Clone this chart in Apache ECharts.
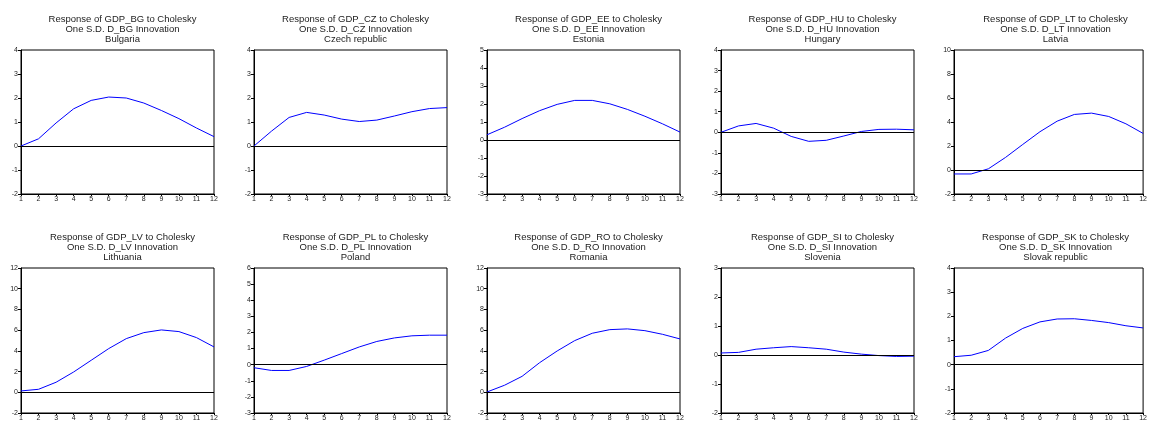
<!DOCTYPE html>
<html><head><meta charset="utf-8">
<script src="https://cdn.jsdelivr.net/npm/echarts@6/dist/echarts.min.js"></script>
<style>html,body{margin:0;padding:0;background:#fff}#c{width:1150px;height:425px}</style>
</head><body><div id="c"></div>
<script>
const periods = ['1','2','3','4','5','6','7','8','9','10','11','12'];
const codes = ['BG','CZ','EE','HU','LT','LV','PL','RO','SI','SK'];
const countries = ['Bulgaria','Czech republic','Estonia','Hungary','Latvia','Lithuania','Poland','Romania','Slovenia','Slovak republic'];
const bulgaria = [0.0,0.30,0.96,1.55,1.90,2.04,2.00,1.79,1.48,1.14,0.75,0.39];
const czech = [0.0,0.62,1.19,1.40,1.29,1.12,1.02,1.08,1.25,1.43,1.56,1.60];
const estonia = [0.29,0.71,1.19,1.63,1.98,2.20,2.20,2.01,1.70,1.32,0.90,0.44];
const hungary = [0.0,0.31,0.43,0.20,-0.20,-0.44,-0.39,-0.18,0.04,0.14,0.15,0.12];
const latvia = [-0.33,-0.33,0.10,1.05,2.13,3.19,4.07,4.63,4.74,4.46,3.85,3.05];
const lithuania = [0.13,0.29,0.97,1.96,3.09,4.22,5.18,5.76,6.02,5.86,5.28,4.38];
const poland = [-0.19,-0.36,-0.36,-0.11,0.28,0.69,1.10,1.44,1.66,1.79,1.83,1.83];
const romania = [0.03,0.68,1.54,2.86,3.99,4.99,5.70,6.05,6.12,5.95,5.60,5.15];
const slovenia = [0.07,0.09,0.20,0.25,0.29,0.25,0.20,0.10,0.03,-0.02,-0.05,-0.04];
const slovak = [0.33,0.39,0.59,1.10,1.50,1.77,1.89,1.90,1.83,1.74,1.61,1.52];
const seriesData = [bulgaria,czech,estonia,hungary,latvia,lithuania,poland,romania,slovenia,slovak];
const yMin = [-2,-2,-3,-3,-2,-2,-3,-2,-2,-2];
const yMax = [4,4,5,4,10,12,6,12,3,4];
const yStep = [1,1,1,1,2,2,1,2,1,1];

const lefts = [21,254,487,721,954];
const W = 193;
const tops = [50,268];
const H = [144,145];
const titleTops = [9,227];

const grid=[],xAxis=[],yAxis=[],series=[],title=[];
for(let i=0;i<10;i++){
  const r=Math.floor(i/5), c=i%5;
  grid.push({left:lefts[c],top:tops[r],width:W,height:H[r],show:true,borderColor:'#000',borderWidth:1,backgroundColor:'transparent'});
  xAxis.push({type:'category',gridIndex:i,data:periods,boundaryGap:false,position:'bottom',
    axisLine:{onZero:false,lineStyle:{color:'#000',width:1}},
    axisTick:{show:true,length:2,lineStyle:{color:'#000'}},
    axisLabel:{fontSize:7,color:'#222',margin:2,interval:0,fontFamily:'Liberation Sans'},
    splitLine:{show:false}});
  yAxis.push({type:'value',gridIndex:i,min:yMin[i],max:yMax[i],interval:yStep[i],
    axisLine:{show:true,onZero:false,lineStyle:{color:'#000',width:1}},
    axisTick:{show:true,length:3,lineStyle:{color:'#000'}},
    axisLabel:{fontSize:7,color:'#222',margin:3,fontFamily:'Liberation Sans'},
    splitLine:{show:false}});
  series.push({type:'line',xAxisIndex:i,yAxisIndex:i,data:seriesData[i],symbol:'none',
    lineStyle:{color:'#0000ff',width:1},
    markLine:{silent:true,symbol:'none',label:{show:false},lineStyle:{color:'#000',width:1,type:'solid'},data:[{yAxis:0}]}});
  title.push({text:'Response of GDP_'+codes[i]+' to Cholesky\nOne S.D. D_'+codes[i]+' Innovation\n'+countries[i],
    left:lefts[c]+W/2,top:titleTops[r],textAlign:'center',
    textStyle:{fontSize:9.5,fontWeight:'normal',color:'#222',lineHeight:10.3,fontFamily:'Liberation Sans'}});
}
const chart=echarts.init(document.getElementById('c'),null,{renderer:'canvas'});
chart.setOption({animation:false,backgroundColor:'#fff',title,grid,xAxis,yAxis,series});
</script></body></html>
